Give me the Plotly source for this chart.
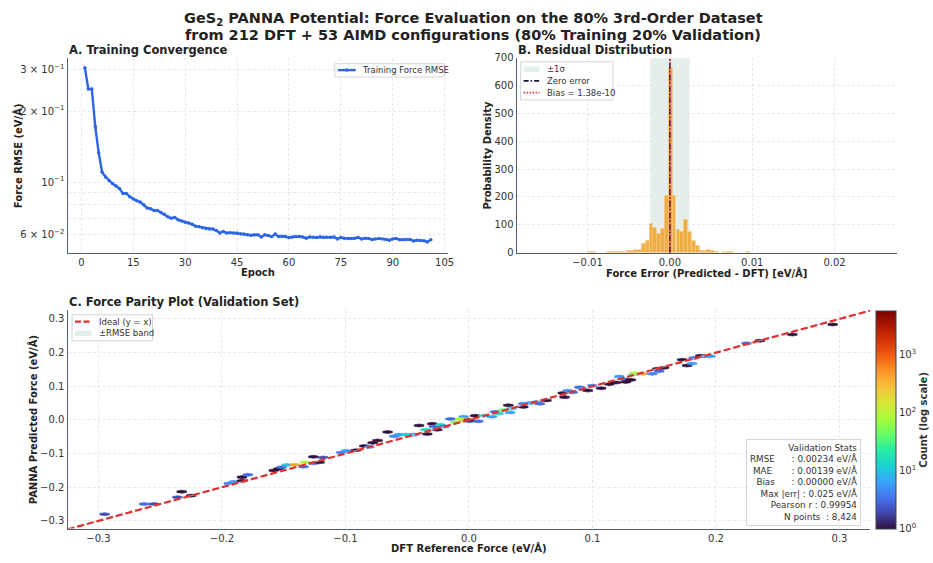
import math
import plotly.graph_objects as go
from plotly.colors import sample_colorscale

# ---------------- Panel A: training convergence ----------------
epochs = list(range(1, 102))
train_rmse = [0.305, 0.248, 0.248, 0.172, 0.133, 0.110, 0.105, 0.1016, 0.0985, 0.0963,
              0.0938, 0.0895, 0.0895, 0.0867, 0.0848, 0.0832, 0.0822, 0.0802, 0.0777, 0.0770,
              0.0758, 0.0758, 0.0742, 0.0730, 0.0712, 0.0703, 0.0708, 0.0691, 0.0683, 0.0676,
              0.0670, 0.0663, 0.0650, 0.0646, 0.0640, 0.0636, 0.0632, 0.0632, 0.0623, 0.0608,
              0.0617, 0.0608, 0.0610, 0.0608, 0.0608, 0.0604, 0.0602, 0.0598, 0.0595, 0.0597,
              0.0598, 0.0585, 0.0597, 0.0593, 0.0587, 0.0602, 0.0587, 0.0589, 0.0587, 0.0582,
              0.0585, 0.0587, 0.0587, 0.0585, 0.0578, 0.0585, 0.0583, 0.0582, 0.0585, 0.0582,
              0.0583, 0.0583, 0.0585, 0.0574, 0.0582, 0.0578, 0.0576, 0.0576, 0.0578, 0.0582,
              0.0574, 0.0578, 0.0576, 0.0571, 0.0574, 0.0576, 0.0574, 0.0571, 0.0567, 0.0574,
              0.0576, 0.0569, 0.0569, 0.0571, 0.0571, 0.0563, 0.0567, 0.0565, 0.0564, 0.0557, 0.0569]
a_x_ticks = [0, 15, 30, 45, 60, 75, 90, 105]
a_y_ticks = [0.06, 0.07, 0.08, 0.09, 0.1, 0.2, 0.3]
a_y_ticktext = ["6 × 10<sup>−2</sup>", "", "", "", "10<sup>−1</sup>",
                "2 × 10<sup>−1</sup>", "3 × 10<sup>−1</sup>"]

# ---------------- Panel B: residual histogram (density) ----------------
bin_width = 0.000467
bin_centers = [-0.00974, -0.00927, -0.00741, -0.00694, -0.00647, -0.00600, -0.00554,
               -0.00507, -0.00460, -0.00414, -0.00367, -0.00320, -0.00274, -0.00227,
               -0.00180, -0.00133, -0.00087, -0.00040, 0.00007, 0.00053, 0.00100,
               0.00147, 0.00193, 0.00240, 0.00287, 0.00334, 0.00380, 0.00427, 0.00474,
               0.00520, 0.00567, 0.00660, 0.00707, 0.00754, 0.00940]
bin_density = [2, 2, 2, 3, 2, 2, 3,
               7, 5, 11, 11, 30, 41, 102,
               88, 69, 87, 205, 665, 204, 81,
               73, 119, 74, 44, 25, 7, 7, 10,
               7, 4, 2, 1, 1, 2]
sigma = 0.00239
bias = 1.38e-10
b_x_ticks = [-0.01, 0.0, 0.01, 0.02]

# ---------------- Panel C: hexbin parity ----------------
hex_x = [-0.295, -0.263, -0.255, -0.2326, -0.236, -0.225, -0.1945, -0.1905, -0.1838, -0.179,
         -0.1838, -0.158, -0.154, -0.1517, -0.1476, -0.141, -0.1329, -0.134, -0.126, -0.126,
         -0.121, -0.118, -0.1035, -0.0994, -0.0914, -0.0847, -0.0806, -0.078, -0.074, -0.0659,
         -0.0605, -0.0565, -0.0512, -0.0445, -0.0404, -0.0338, -0.0351, -0.0297, -0.0284, -0.0257,
         -0.023, -0.020, -0.015, -0.011, -0.0043, -0.007, -0.003, 0.0005, 0.005, 0.0075,
         0.0118, 0.0185, 0.0212, 0.0239, 0.0279, 0.0319, 0.0332, 0.0346, 0.044, 0.044,
         0.0493, 0.0547, 0.0573, 0.0627, 0.076, 0.0774, 0.080, 0.084, 0.0895, 0.0922,
         0.0962, 0.100, 0.107, 0.1136, 0.119, 0.1217, 0.1257, 0.127, 0.131, 0.1337,
         0.1345, 0.141, 0.1485, 0.1525, 0.154, 0.158, 0.1726, 0.1766, 0.1806, 0.1819,
         0.1873, 0.1913, 0.1953, 0.2248, 0.2355, 0.2618, 0.2945, 0.0]
hex_y = [-0.280, -0.250, -0.250, -0.2133, -0.2297, -0.225, -0.189, -0.184, -0.170, -0.163,
         -0.181, -0.150, -0.145, -0.1406, -0.1337, -0.133, -0.126, -0.139, -0.1096, -0.129,
         -0.126, -0.1116, -0.097, -0.092, -0.090, -0.0776, -0.0805, -0.068, -0.061, -0.036,
         -0.0486, -0.0437, -0.0437, -0.0437, -0.0166, -0.0418, -0.029, -0.0117, -0.0195, -0.029,
         -0.0146, -0.0195, 0.003, -0.007, 0.0096, 0.003, -0.003, -0.004, 0.0125, -0.004,
         0.0125, 0.0096, 0.024, 0.019, 0.029, 0.0436, 0.022, 0.0337, 0.048, 0.0387,
         0.050, 0.053, 0.048, 0.058, 0.080, 0.0677, 0.087, 0.082, 0.0968, 0.092,
         0.0872, 0.102, 0.094, 0.1064, 0.111, 0.1288, 0.121, 0.113, 0.119, 0.1355,
         0.139, 0.1375, 0.137, 0.152, 0.145, 0.155, 0.179, 0.1616, 0.1675, 0.184,
         0.1907, 0.189, 0.189, 0.2276, 0.2354, 0.2538, 0.2837, 0.0]
hex_count = [2, 3, 2, 1, 2, 1, 4, 6, 1, 3,
             1, 1, 1, 3, 10, 400, 80, 3, 1, 3,
             1, 2, 4, 6, 1, 1, 6, 1, 1, 1,
             4, 6, 12, 6, 1, 1, 15, 1, 3, 1,
             15, 3, 3, 60, 6, 80, 300, 3, 1, 3,
             15, 6, 3, 12, 40, 1, 6, 12, 4, 1,
             5, 6, 3, 1, 1, 1, 5, 3, 3, 6,
             1, 4, 1, 1, 1, 6, 3, 1, 1, 15,
             80, 400, 4, 1, 3, 1, 1, 1, 6, 3,
             1, 4, 6, 3, 1, 1, 1, 5600]
hex_w = 0.0078   # hexbin cell width (data units)
hex_h = 0.0135   # hexbin cell row spacing (data units)
rmse = 0.00234
c_ticks = [-0.3, -0.2, -0.1, 0.0, 0.1, 0.2, 0.3]
cb_tickvals = [0, 1, 2, 3]
cb_ticktext = ["10<sup>0</sup>", "10<sup>1</sup>", "10<sup>2</sup>", "10<sup>3</sup>"]
stats_labels = ["RMSE      ", "MAE       ", "Bias      ", "Max |err| ", "Pearson r ", "N points  "]
stats_values = ["0.00234 eV/Å", "0.00139 eV/Å", "0.00000 eV/Å", "0.025 eV/Å", "0.99954", "8,424"]

# ---------------- styling ----------------
W, H = 933, 563
FONT = "DejaVu Sans"
TXT = "#333333"
AXC = "#4f5d6c"
GRID = "#e9e9e9"
BLUE = "#2c66e6"
ORANGE = "rgba(240,163,45,0.88)"
SHADE = "rgba(205,225,221,0.55)"
NAVY = "#14193a"
RED_B = "#e8323a"
RED_C = "#e0312f"


def px_x(p):
    return p / W


def px_y(p):
    return 1 - p / H


fig = go.Figure()

# Panel A
fig.add_trace(go.Scatter(
    x=epochs, y=train_rmse, mode="lines+markers", name="Training Force RMSE",
    line=dict(color=BLUE, width=2.4), marker=dict(size=3.5, color=BLUE),
    xaxis="x", yaxis="y"))

# Panel B
fig.add_trace(go.Bar(
    x=bin_centers, y=bin_density, width=bin_width, name="Residuals",
    marker=dict(color=ORANGE, line=dict(color="rgba(252,205,130,1)", width=0.5)),
    xaxis="x2", yaxis="y2"))
fig.add_trace(go.Scatter(
    x=[0, 0], y=[0, 700], mode="lines", name="Zero error",
    line=dict(color=NAVY, width=1.6, dash="6px,2px,1.5px,2px"),
    xaxis="x2", yaxis="y2"))
fig.add_trace(go.Scatter(
    x=[bias, bias], y=[0, 700], mode="lines", name=f"Bias = {bias:.2e}",
    line=dict(color=RED_B, width=1.6, dash="1.5px,1.5px"),
    xaxis="x2", yaxis="y2"))

# Panel C hexes
cmax = math.log10(max(hex_count))
hx = [0.5, 0.5, 0.0, -0.5, -0.5, 0.0, 0.5]
hy = [-0.5, 0.5, 1.0, 0.5, -0.5, -1.0, -0.5]
for cx, cy, n in zip(hex_x, hex_y, hex_count):
    col = sample_colorscale("Turbo", [math.log10(n) / cmax])[0]
    fig.add_trace(go.Scatter(
        x=[cx + hex_w * a for a in hx], y=[cy + hex_h / 3 * b for b in hy],
        mode="lines", fill="toself", fillcolor=col, line=dict(color=col, width=0.6),
        xaxis="x3", yaxis="y3", hoverinfo="skip"))

# colorbar carrier
fig.add_trace(go.Scatter(
    x=[hex_x[-1]], y=[hex_y[-1]], mode="markers",
    marker=dict(size=0.1, color=[0], colorscale="Turbo", cmin=0, cmax=cmax, showscale=True,
                colorbar=dict(x=px_x(881.5), xanchor="left", xpad=0, ypad=0,
                              y=px_y(311.5), yanchor="top", len=(534 - 311.5) / H, lenmode="fraction",
                              thickness=20, thicknessmode="pixels",
                              outlinecolor="#3a4552", outlinewidth=1,
                              tickvals=cb_tickvals, ticktext=cb_ticktext, ticks="",
                              tickfont=dict(family=FONT, size=10, color=TXT),
                              title=dict(text="<b>Count (log scale)</b>", side="right",
                                         font=dict(family=FONT, size=10, color=TXT)))),
    xaxis="x3", yaxis="y3", hoverinfo="skip"))

lim = c_ticks[-1] + 0.025
fig.add_trace(go.Scatter(
    x=[-lim, lim, lim, -lim, -lim], y=[-lim - rmse, lim - rmse, lim + rmse, -lim + rmse, -lim - rmse],
    mode="lines", fill="toself", fillcolor=SHADE, line=dict(width=0, color=SHADE), name="±RMSE band",
    xaxis="x3", yaxis="y3"))
fig.add_trace(go.Scatter(
    x=[-lim, lim], y=[-lim, lim], mode="lines", name="Ideal (y = x)",
    line=dict(color=RED_C, width=2.2, dash="7px,3px"),
    xaxis="x3", yaxis="y3"))

# shade ±1σ
shapes = [dict(type="rect", xref="x2", yref="y2", x0=-sigma, x1=sigma, y0=0, y1=700,
               fillcolor=SHADE, line=dict(width=0), layer="below")]
ann = []


def add_text(text, x, y, size, xanchor="center", textangle=0, bold=True, color="#222222"):
    ann.append(dict(text=f"<b>{text}</b>" if bold else text, x=px_x(x), y=px_y(y),
                    xref="paper", yref="paper", showarrow=False, xanchor=xanchor,
                    yanchor="middle", textangle=textangle,
                    font=dict(family=FONT, size=size, color=color)))


# compact matplotlib-style legends
def legend(box, rows):
    x0, y0, x1, y1 = box
    shapes.append(dict(type="rect", xref="paper", yref="paper", x0=px_x(x0), x1=px_x(x1),
                       y0=px_y(y1), y1=px_y(y0), fillcolor="rgba(255,255,255,0.92)",
                       line=dict(color="#cfd6de", width=1), layer="above"))
    for kind, style, label, yc, sx0, sx1, tx in rows:
        if kind == "patch":
            shapes.append(dict(type="rect", xref="paper", yref="paper", x0=px_x(sx0), x1=px_x(sx1),
                               y0=px_y(yc + 2.8), y1=px_y(yc - 2.8), fillcolor=style,
                               line=dict(width=0), layer="above"))
        else:
            color, width, dash, marker = style
            shapes.append(dict(type="line", xref="paper", yref="paper", x0=px_x(sx0), x1=px_x(sx1),
                               y0=px_y(yc), y1=px_y(yc), line=dict(color=color, width=width, dash=dash),
                               layer="above"))
            if marker:
                xm = (sx0 + sx1) / 2
                shapes.append(dict(type="circle", xref="paper", yref="paper",
                                   x0=px_x(xm - 1.8), x1=px_x(xm + 1.8), y0=px_y(yc + 1.8), y1=px_y(yc - 1.8),
                                   fillcolor=color, line=dict(width=0), layer="above"))
        add_text(label, tx, yc, 8.5, xanchor="left", bold=False, color=TXT)


legend((337, 59, 447, 72.5), [("line", (BLUE, 2.4, "solid", True), "Training Force RMSE", 65.5, 340, 358, 362)])
legend((524, 57, 617, 96), [
    ("patch", SHADE, "±1σ", 64.5, 527, 543, 549),
    ("line", (NAVY, 1.6, "5px,2px,1.5px,2px", False), "Zero error", 76.5, 527, 543, 549),
    ("line", (RED_B, 1.6, "1.5px,1.5px", False), f"Bias = {bias:.2e}", 88.5, 527, 543, 549)])
legend((72.5, 315.5, 153.5, 342), [
    ("line", (RED_C, 2.2, "6px,2.5px", False), "Ideal (y = x)", 322.5, 75.5, 92, 98),
    ("patch", SHADE, "±RMSE band", 334.5, 75.5, 92, 98)])

axis_common = dict(showline=True, linecolor=AXC, linewidth=1.3, showgrid=True, gridcolor=GRID,
                   griddash="3px,2px", gridwidth=0.8, zeroline=False, ticks="",
                   tickfont=dict(family=FONT, size=10, color=TXT))

fig.update_layout(
    width=W, height=H, margin=dict(l=0, r=0, t=0, b=0),
    paper_bgcolor="white", plot_bgcolor="white",
    font=dict(family=FONT, color=TXT),
    showlegend=False,
    xaxis=dict(domain=[px_x(68), px_x(451)], anchor="y", range=[-4, 106],
               tickvals=a_x_ticks, **axis_common),
    yaxis=dict(domain=[px_y(252), px_y(53)], anchor="x", type="log",
               range=[math.log10(0.0502), math.log10(0.336)],
               tickvals=a_y_ticks, ticktext=a_y_ticktext, **axis_common),
    xaxis2=dict(domain=[px_x(520), px_x(903)], anchor="y2", range=[-0.0186, 0.0276],
                tickvals=b_x_ticks, tickformat=".2f", **axis_common),
    yaxis2=dict(domain=[px_y(252), px_y(53)], anchor="x2", range=[0, 700], dtick=100,
                **axis_common),
    xaxis3=dict(domain=[px_x(68), px_x(876)], anchor="y3", range=[-0.325, 0.325],
                tickvals=c_ticks, tickformat=".1f", **axis_common),
    yaxis3=dict(domain=[px_y(534), px_y(310.5)], anchor="x3", range=[-0.323, 0.327],
                tickvals=c_ticks, tickformat=".1f", **axis_common),
    bargap=0,
)

add_text("GeS<sub>2</sub> PANNA Potential: Force Evaluation on the 80% 3rd-Order Dataset", 476.5, 13, 14.5)
add_text("from 212 DFT + 53 AIMD configurations (80% Training 20% Validation)", 476.5, 29.5, 14.5)
add_text("A. Training Convergence", 67, 45, 11.5, xanchor="left")
add_text("B. Residual Distribution", 519, 45, 11.5, xanchor="left")
add_text("C. Force Parity Plot (Validation Set)", 67, 302, 11.5, xanchor="left")
add_text("Epoch", 259.5, 272, 10)
add_text("Force RMSE (eV/Å)", 18, 152.5, 10, textangle=-90)
add_text("Force Error (Predicted - DFT) [eV/Å]", 711.5, 272.5, 10)
add_text("Probability Density", 490.5, 152.5, 10, textangle=-90)
add_text("DFT Reference Force (eV/Å)", 472, 554, 10)
add_text("PANNA Predicted Force (eV/Å)", 34, 422.5, 10, textangle=-90)

stats_lines = ["Validation Stats"] + [f"{l.replace(' ', chr(160))}: {v}" for l, v in zip(stats_labels, stats_values)]
ann.append(dict(text="<br>".join(stats_lines), x=px_x(867), y=px_y(531), xref="paper", yref="paper",
                showarrow=False, xanchor="right", yanchor="bottom", align="right",
                font=dict(family=FONT, size=8.8, color=TXT),
                bgcolor="rgba(255,255,255,0.92)", bordercolor="#cfd6de", borderwidth=1, borderpad=3))
fig.update_layout(annotations=ann, shapes=shapes)

fig.write_html("out.html")
